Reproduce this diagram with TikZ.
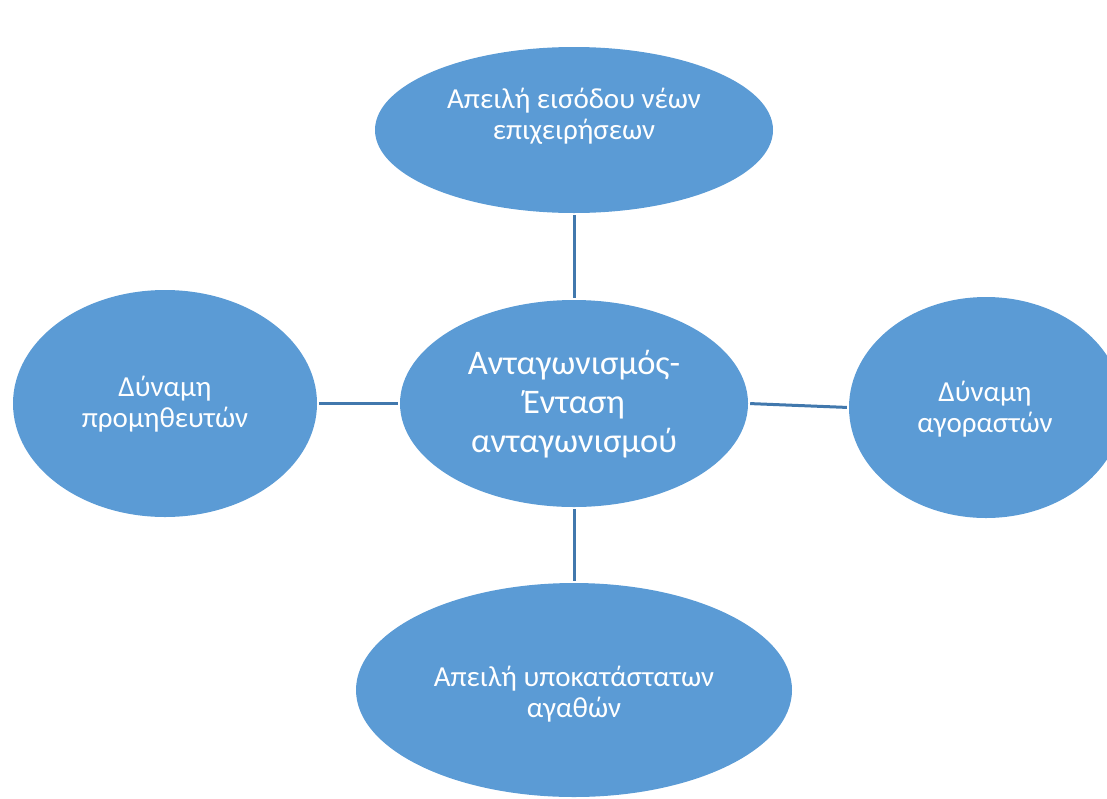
\documentclass[tikz,border=0pt]{standalone}
\usepackage{fontspec}
\setmainfont{Carlito}
\usetikzlibrary{shapes.geometric}
\definecolor{fillblue}{HTML}{5B9BD5}
\definecolor{linkblue}{HTML}{4178AD}
\begin{document}
\begin{tikzpicture}[x=1pt,y=-1pt,
  blob/.style={ellipse,fill=fillblue,draw=none,inner sep=0pt},
  txt/.style={text=white,align=center,font=\fontsize{29}{31.5}\selectfont,inner sep=0pt},
  bigtxt/.style={text=white,align=center,font=\fontsize{34.5}{39}\selectfont,inner sep=0pt},
  link/.style={draw=linkblue,line width=3pt,shorten <=2pt,shorten >=2pt}]
\useasboundingbox (0,0) rectangle (1107,798);
\clip (0,0) rectangle (1107,798);
\node[blob,minimum width=398pt,minimum height=166pt] (top) at (574,130) {};
\node[blob,minimum width=348pt,minimum height=207pt] (mid) at (574,403.5) {};
\node[blob,minimum width=304pt,minimum height=227pt] (left) at (165,403.5) {};
\node[blob,minimum width=274pt,minimum height=221pt] (right) at (986,407.5) {};
\node[blob,minimum width=436pt,minimum height=214pt] (bot) at (574,690) {};
\node[txt] (toptxt) at (574,116) {Απειλή εισόδου νέων\\επιχειρήσεων};
\node[bigtxt] (midtxt) at (574,404) {Ανταγωνισμός-\\Ένταση\\ανταγωνισμού};
\node[txt] (lefttxt) at (165,404) {Δύναμη\\προμηθευτών};
\node[txt] (righttxt) at (985,409) {Δύναμη\\αγοραστών};
\node[txt] (bottxt) at (574,694) {Απειλή υποκατάστατων\\αγαθών};
\draw[link] (top.south) -- (mid.north);
\draw[link] (left.east) -- (mid.west);
\draw[link] (mid.east) -- (right.west);
\draw[link] (mid.south) -- (bot.north);
\end{tikzpicture}
\end{document}
